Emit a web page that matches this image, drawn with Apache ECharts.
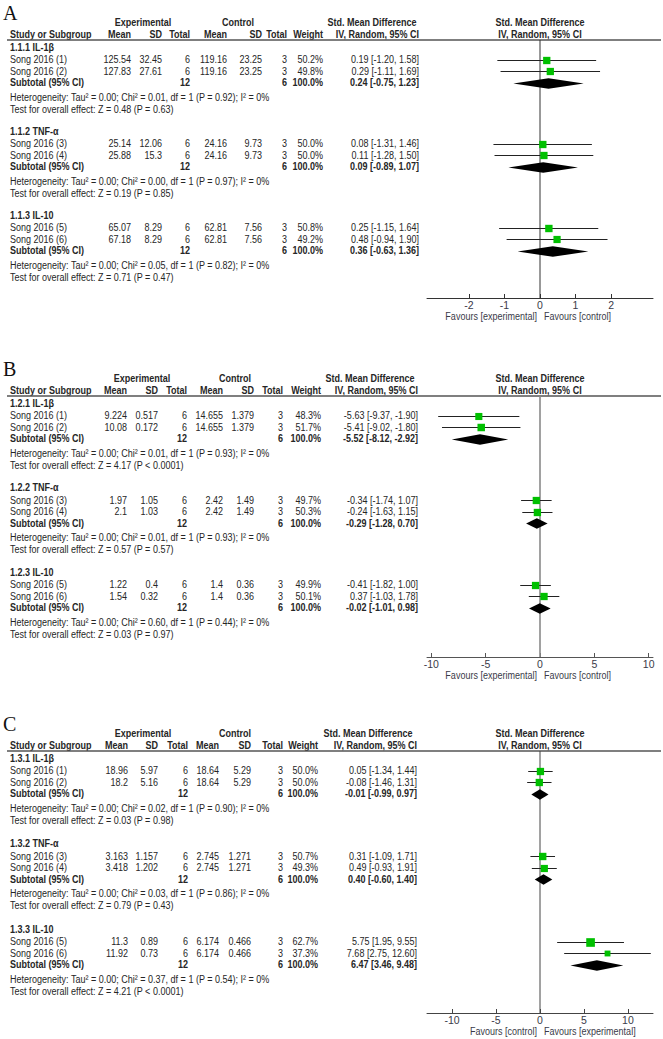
<!DOCTYPE html>
<html><head><meta charset="utf-8">
<script src="https://cdn.jsdelivr.net/npm/echarts@6/dist/echarts.min.js"></script>
<style>html,body{margin:0;padding:0;background:#fff}#c{width:663px;height:1039px}</style>
</head><body><div id="c"></div>
<script>
// ---------- DATA ----------
const studies = ['Song 2016 (1)','Song 2016 (2)','Song 2016 (3)','Song 2016 (4)','Song 2016 (5)','Song 2016 (6)'];
const subgroupNames = ['IL-1β','TNF-α','IL-10'];
const panelLetters = ['A','B','C'];
const panelCodes = ['1.1','1.2','1.3'];
const expTotal = [6,6,6,6,6,6];
const ctrlTotal = [3,3,3,3,3,3];
const subExpTotal = [12,12,12];
const subCtrlTotal = [6,6,6];

// Panel A
const expMeanA = [125.54,127.83,25.14,25.88,65.07,67.18];
const expSDA   = [32.45,27.61,12.06,15.3,8.29,8.29];
const ctrlMeanA= [119.16,119.16,24.16,24.16,62.81,62.81];
const ctrlSDA  = [23.25,23.25,9.73,9.73,7.56,7.56];
const weightA  = [50.2,49.8,50.0,50.0,50.8,49.2];
const smdA     = [0.19,0.29,0.08,0.11,0.25,0.48];
const loA      = [-1.20,-1.11,-1.31,-1.28,-1.15,-0.94];
const hiA      = [1.58,1.69,1.46,1.50,1.64,1.90];
const subSmdA  = [0.24,0.09,0.36];
const subLoA   = [-0.75,-0.89,-0.63];
const subHiA   = [1.23,1.07,1.36];
const chiA     = ['0.01','0.00','0.05'];
const hetPA    = ['0.92','0.97','0.82'];
const zA       = ['0.48','0.19','0.71'];
const zPA      = ['= 0.63','= 0.85','= 0.47'];
const ticksA   = [-2,-1,0,1,2];

// Panel B
const expMeanB = [9.224,10.08,1.97,2.1,1.22,1.54];
const expSDB   = [0.517,0.172,1.05,1.03,0.4,0.32];
const ctrlMeanB= [14.655,14.655,2.42,2.42,1.4,1.4];
const ctrlSDB  = [1.379,1.379,1.49,1.49,0.36,0.36];
const weightB  = [48.3,51.7,49.7,50.3,49.9,50.1];
const smdB     = [-5.63,-5.41,-0.34,-0.24,-0.41,0.37];
const loB      = [-9.37,-9.02,-1.74,-1.63,-1.82,-1.03];
const hiB      = [-1.90,-1.80,1.07,1.15,1.00,1.78];
const subSmdB  = [-5.52,-0.29,-0.02];
const subLoB   = [-8.12,-1.28,-1.01];
const subHiB   = [-2.92,0.70,0.98];
const chiB     = ['0.01','0.01','0.60'];
const hetPB    = ['0.93','0.93','0.44'];
const zB       = ['4.17','0.57','0.03'];
const zPB      = ['< 0.0001','= 0.57','= 0.97'];
const ticksB   = [-10,-5,0,5,10];

// Panel C
const expMeanC = [18.96,18.2,3.163,3.418,11.3,11.92];
const expSDC   = [5.97,5.16,1.157,1.202,0.89,0.73];
const ctrlMeanC= [18.64,18.64,2.745,2.745,6.174,6.174];
const ctrlSDC  = [5.29,5.29,1.271,1.271,0.466,0.466];
const weightC  = [50.0,50.0,50.7,49.3,62.7,37.3];
const smdC     = [0.05,-0.08,0.31,0.49,5.75,7.68];
const loC      = [-1.34,-1.46,-1.09,-0.93,1.95,2.75];
const hiC      = [1.44,1.31,1.71,1.91,9.55,12.60];
const subSmdC  = [-0.01,0.40,6.47];
const subLoC   = [-0.99,-0.60,3.46];
const subHiC   = [0.97,1.40,9.48];
const chiC     = ['0.02','0.03','0.37'];
const hetPC    = ['0.90','0.86','0.54'];
const zC       = ['0.03','0.79','4.21'];
const zPC      = ['= 0.98','= 0.43','< 0.0001'];
const ticksC   = [-10,-5,0,5,10];

const favoursLeft  = ['Favours [experimental]','Favours [experimental]','Favours [control]'];
const favoursRight = ['Favours [control]','Favours [control]','Favours [experimental]'];

// ---------- BUILD ----------
const panels = [
  {expMean:expMeanA,expSD:expSDA,ctrlMean:ctrlMeanA,ctrlSD:ctrlSDA,weight:weightA,smd:smdA,lo:loA,hi:hiA,subSmd:subSmdA,subLo:subLoA,subHi:subHiA,chi:chiA,hetP:hetPA,z:zA,zP:zPA,ticks:ticksA},
  {expMean:expMeanB,expSD:expSDB,ctrlMean:ctrlMeanB,ctrlSD:ctrlSDB,weight:weightB,smd:smdB,lo:loB,hi:hiB,subSmd:subSmdB,subLo:subLoB,subHi:subHiB,chi:chiB,hetP:hetPB,z:zB,zP:zPB,ticks:ticksB},
  {expMean:expMeanC,expSD:expSDC,ctrlMean:ctrlMeanC,ctrlSD:ctrlSDC,weight:weightC,smd:smdC,lo:loC,hi:hiC,subSmd:subSmdC,subLo:subLoC,subHi:subHiC,chi:chiC,hetP:hetPC,z:zC,zP:zPC,ticks:ticksC}
];

// layout
const lineY = [40, 396, 751];
const axisY = [298, 657, 1013];
const pitch = [84, 84.5, 85.5];
const xRange = [[-3.18,3.18],[-10.4,10.4],[-12.85,12.85]];
const zeroColor = ['#333','#8a8a8a','#444'];
const zeroWidth = [1,1.6,1];
const axisColor = ['#333','#555','#444'];
const cols = [
  [10,131,162,190,227,262,287,323,419,143,238,372],
  [10,127,158,187,223,254,283,321,418,142,235,370],
  [10,128,158,188,219,251,283,318,417,143,235,368]
];
const OFF = {head:7, s1:19.5, s2:31, sub:42.5, het:57, test:69};
const SX = 0.82;
const FONT = '"Liberation Sans", Arial, sans-serif';
const TXT = '#262626';
const graphics = [];
function txt(x, y, s, align, bold, extra) {
  const o = {type:'text', x:x, y:y, scaleX:SX, silent:true,
    style:Object.assign({text:s, fill:TXT, font:(bold?'bold ':'')+'11px '+FONT,
      textAlign:align||'left', textVerticalAlign:'middle', align:align||'left', verticalAlign:'middle'}, extra||{})};
  graphics.push(o);
}
function ci(e,l,h){return e.toFixed(2)+' ['+l.toFixed(2)+', '+h.toFixed(2)+']';}

const grids=[], xAxes=[], yAxes=[], series=[];
panels.forEach((p, i) => {
  const L = lineY[i], c = cols[i], H = axisY[i]-L;
  // panel letter
  graphics.push({type:'text', x:3, y:L-27, silent:true, style:{text:panelLetters[i], fill:'#111',
    font:'20px "Liberation Serif","Times New Roman",serif', textAlign:'left', textVerticalAlign:'middle', align:'left', verticalAlign:'middle'}});
  // headers
  txt(c[9], L-18, 'Experimental', 'center', true);
  txt(c[10], L-18, 'Control', 'center', true);
  txt(c[11], L-18, 'Std. Mean Difference', 'center', true);
  txt(540, L-18, 'Std. Mean Difference', 'center', true);
  txt(c[0], L-5.5, 'Study or Subgroup', 'left', true);
  txt(c[1], L-5.5, 'Mean', 'right', true);
  txt(c[2], L-5.5, 'SD', 'right', true);
  txt(c[3], L-5.5, 'Total', 'right', true);
  txt(c[4], L-5.5, 'Mean', 'right', true);
  txt(c[5], L-5.5, 'SD', 'right', true);
  txt(c[6], L-5.5, 'Total', 'right', true);
  txt(c[7], L-5.5, 'Weight', 'right', true);
  txt(c[8], L-5.5, 'IV, Random, 95% CI', 'right', true);
  txt(540, L-5.5, 'IV, Random, 95% CI', 'center', true);
  graphics.push({type:'line', silent:true, shape:{x1:7,y1:L,x2:661,y2:L}, style:{stroke:'#555',lineWidth:1.5}});

  const pts = [];
  for (let g=0; g<3; g++) {
    const base = pitch[i]*g;
    txt(c[0], L+base+OFF.head, panelCodes[i]+'.'+(g+1)+' '+subgroupNames[g], 'left', true);
    for (let k=0;k<2;k++){
      const j = g*2+k, y = L+base+(k===0?OFF.s1:OFF.s2);
      txt(c[0], y, studies[j], 'left');
      txt(c[1], y, String(p.expMean[j]), 'right');
      txt(c[2], y, String(p.expSD[j]), 'right');
      txt(c[3], y, String(expTotal[j]), 'right');
      txt(c[4], y, String(p.ctrlMean[j]), 'right');
      txt(c[5], y, String(p.ctrlSD[j]), 'right');
      txt(c[6], y, String(ctrlTotal[j]), 'right');
      txt(c[7], y, p.weight[j].toFixed(1)+'%', 'right');
      txt(c[8], y, ci(p.smd[j],p.lo[j],p.hi[j]), 'right');
      pts.push([p.smd[j], p.lo[j], p.hi[j], base+(k===0?OFF.s1:OFF.s2), p.weight[j], 0]);
    }
    const ys = L+base+OFF.sub;
    txt(c[0], ys, 'Subtotal (95% CI)', 'left', true);
    txt(c[3], ys, String(subExpTotal[g]), 'right', true);
    txt(c[6], ys, String(subCtrlTotal[g]), 'right', true);
    txt(c[7], ys, '100.0%', 'right', true);
    txt(c[8], ys, ci(p.subSmd[g],p.subLo[g],p.subHi[g]), 'right', true);
    pts.push([p.subSmd[g], p.subLo[g], p.subHi[g], base+OFF.sub, 100, 1]);
    txt(c[0], L+base+OFF.het, 'Heterogeneity: Tau² = 0.00; Chi² = '+p.chi[g]+', df = 1 (P = '+p.hetP[g]+'); I² = 0%', 'left');
    txt(c[0], L+base+OFF.test, 'Test for overall effect: Z = '+p.z[g]+' (P '+p.zP[g]+')', 'left');
  }
  txt(537, axisY[i]+18, favoursLeft[i], 'right', false, {fill:'#3a3a48'});
  txt(544, axisY[i]+18, favoursRight[i], 'left', false, {fill:'#3a3a48'});

  grids.push({left:427, width:226, top:L, height:H});
  xAxes.push({gridIndex:i, type:'value', min:xRange[i][0], max:xRange[i][1], position:'bottom',
    axisLine:{show:true, onZero:false, lineStyle:{color:axisColor[i], width:1}},
    axisTick:{show:true, customValues:p.ticks, inside:true, length:4, lineStyle:{color:axisColor[i]}},
    axisLabel:{customValues:p.ticks, fontSize:10.5, color:'#3a3a48', margin:1, fontFamily:FONT},
    splitLine:{show:false}});
  yAxes.push({gridIndex:i, type:'value', min:0, max:H, inverse:true, show:false});
  series.push({type:'line', xAxisIndex:i, yAxisIndex:i, data:[[0,0],[0,H]], symbol:'none', silent:true, z:1,
    lineStyle:{color:zeroColor[i], width:zeroWidth[i]}});
  series.push({type:'custom', xAxisIndex:i, yAxisIndex:i, z:3, silent:true, data:pts,
    encode:{x:[0,1,2], y:3},
    renderItem:function(params, api){
      const e=api.value(0), lo=api.value(1), hi=api.value(2), y=api.value(3), w=api.value(4), kind=api.value(5);
      const cc=api.coord([e,y]), l=api.coord([lo,y]), h=api.coord([hi,y]);
      const yy = Math.round(cc[1])+0.5;
      if (kind===0) {
        const s = 7.3*Math.pow(w/50,0.75);
        return {type:'group', children:[
          {type:'line', shape:{x1:l[0],y1:yy,x2:h[0],y2:yy}, style:{stroke:'#222',lineWidth:1}},
          {type:'rect', shape:{x:cc[0]-s/2,y:yy-s/2,width:s,height:s}, style:{fill:'#00c000'}}
        ]};
      }
      return {type:'polygon', shape:{points:[[l[0],yy],[cc[0],yy-5.3],[h[0],yy],[cc[0],yy+5.3]]}, style:{fill:'#000'}};
    }});
});

const chart = echarts.init(document.getElementById('c'), null, {renderer:'svg', width:663, height:1039});
chart.setOption({animation:false, backgroundColor:'#fff', grid:grids, xAxis:xAxes, yAxis:yAxes, series:series, graphic:{elements:graphics}});
</script>
</body></html>
